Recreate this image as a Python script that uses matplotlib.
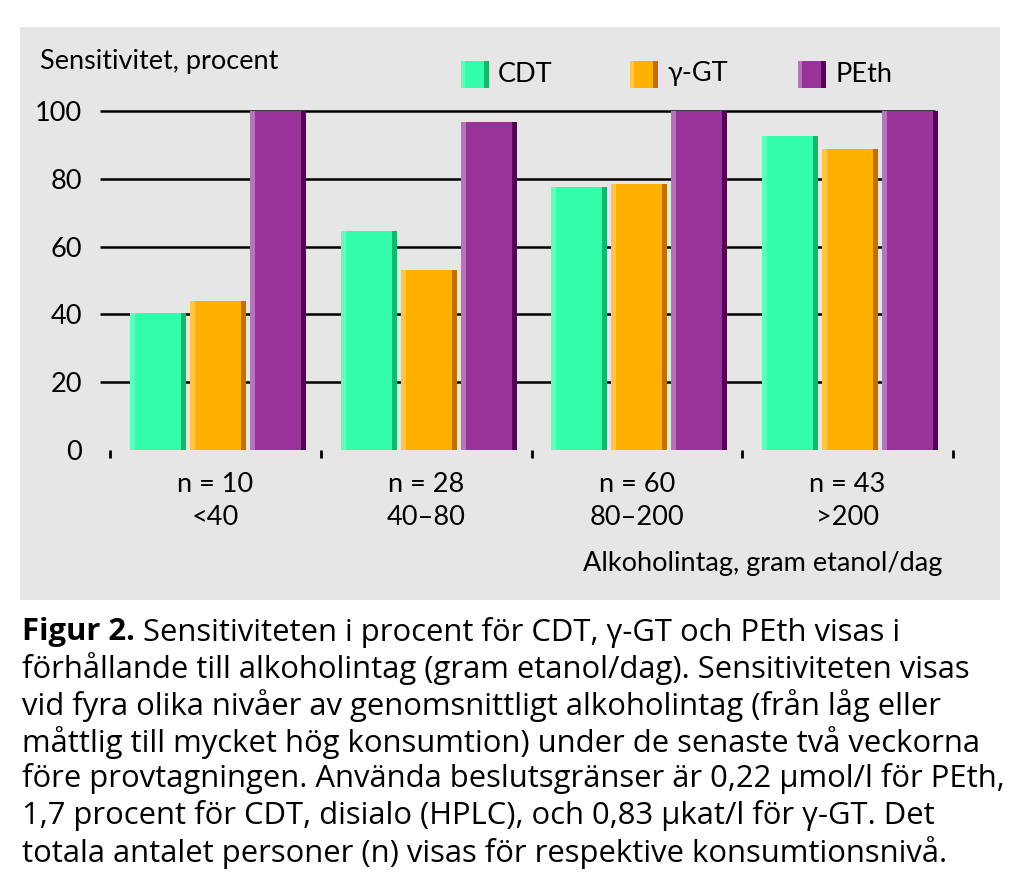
import matplotlib
matplotlib.use("Agg")
import matplotlib.pyplot as plt
from matplotlib.patches import Rectangle
from matplotlib.transforms import blended_transform_factory
import numpy as np

# data
groups_n = ["n = 10", "n = 28", "n = 60", "n = 43"]
groups_range = ["<40", "40\u201380", "80\u2013200", ">200"]
series = ["CDT", "\u03b3-GT", "PEth"]
cdt = [40.5, 64.5, 77.5, 92.5]
ggt = [44, 53, 78.5, 88.8]
peth = [100, 96.8, 100, 100]
yticks = [0, 20, 40, 60, 80, 100]

# main / light strip / dark strip
colors = {
    "CDT": ("#33FFAA", "#5CFFBC", "#14B86A"),
    "\u03b3-GT": ("#FFB000", "#FFC54A", "#C07200"),
    "PEth": ("#993399", "#B874B8", "#550055"),
}

W, H = 1022, 890
FONT = "Lato"
CAPFONT = "Open Sans"
FS = 19.5

fig = plt.figure(figsize=(W / 100, H / 100), dpi=100)
fig.patch.set_facecolor("white")


def fx(px):
    return px / W


def fy(py):
    return 1 - py / H


# grey panel
fig.add_artist(Rectangle((fx(20), fy(600)), fx(980), 573 / H,
                         transform=fig.transFigure, facecolor="#E6E6E6",
                         edgecolor="none", zorder=0))

ax = fig.add_axes([fx(110), fy(450), 843 / W, (450 - 111) / H])
ax.set_facecolor("none")
for s in ax.spines.values():
    s.set_visible(False)

x = np.arange(len(groups_n))
ax.set_xlim(-0.5, len(groups_n) - 0.5)
ax.set_ylim(0, 100)

# grid lines behind bars
tr = blended_transform_factory(ax.transAxes, ax.transData)
ax.hlines(yticks[1:], -10 / 843, (935 - 110) / 843, transform=tr,
          color="black", lw=1.8, zorder=1, clip_on=False)

unit = 210.75
bw = 56 / unit
step = 60 / unit
strip = 5 / unit
shift = 2.5 / unit
for i, (name, vals) in enumerate(zip(series, [cdt, ggt, peth])):
    main, light, dark = colors[name]
    xs = x + (i - 1) * step + shift
    ax.bar(xs, vals, width=bw, color=main, zorder=2, clip_on=False)
    ax.bar(xs - bw / 2 + strip / 2, vals, width=strip, color=light,
           zorder=3, clip_on=False)
    ax.bar(xs + bw / 2 - strip / 2, vals, width=strip, color=dark,
           zorder=3, clip_on=False)

ax.set_yticks(yticks)
ax.set_yticklabels([str(v) for v in yticks], fontsize=FS, family=FONT)
ax.tick_params(axis="y", length=0, pad=20)

ax.set_xticks(np.arange(-0.5, len(groups_n), 1.0))
ax.set_xticklabels([])
ax.tick_params(axis="x", which="major", length=6, width=2, direction="out")
ax.set_xticks(x, minor=True)
ax.set_xticklabels([f"{a}\n{b}" for a, b in zip(groups_n, groups_range)],
                   minor=True, fontsize=FS, family=FONT, linespacing=1.4)
ax.tick_params(axis="x", which="minor", length=0, pad=16)

fig.text(fx(40), fy(62), "Sensitivitet, procent", fontsize=FS, family=FONT,
         va="center", ha="left")
fig.text(fx(942), fy(563), "Alkoholintag, gram etanol/dag", fontsize=FS,
         family=FONT, va="center", ha="right")

# legend
for name, lx in zip(series, [461, 630, 798]):
    main, light, dark = colors[name]
    fig.add_artist(Rectangle((fx(lx), fy(88)), fx(28), 27 / H,
                             transform=fig.transFigure, facecolor=main,
                             edgecolor="none"))
    fig.add_artist(Rectangle((fx(lx), fy(88)), fx(4), 27 / H,
                             transform=fig.transFigure, facecolor=light,
                             edgecolor="none"))
    fig.add_artist(Rectangle((fx(lx + 23), fy(88)), fx(5), 27 / H,
                             transform=fig.transFigure, facecolor=dark,
                             edgecolor="none"))
    fig.text(fx(lx + 37), fy(74), name, fontsize=FS, family=FONT,
             va="center", ha="left")

# caption
caption = [
    "Sensitiviteten i procent för CDT, \u03b3-GT och PEth visas i",
    "förhållande till alkoholintag (gram etanol/dag). Sensitiviteten visas",
    "vid fyra olika nivåer av genomsnittligt alkoholintag (från låg eller",
    "måttlig till mycket hög konsumtion) under de senaste två veckorna",
    "före provtagningen. Använda beslutsgränser är 0,22 \u00b5mol/l för PEth,",
    "1,7 procent för CDT, disialo (HPLC), och 0,83 \u00b5kat/l för \u03b3-GT. Det",
    "totala antalet personer (n) visas för respektive konsumtionsnivå.",
]
cap_fs = 22.3
bold = fig.text(fx(22), fy(632), "Figur 2.", fontsize=cap_fs, family=CAPFONT,
                weight="bold", va="center", ha="left")
fig.canvas.draw()
bb = bold.get_window_extent(renderer=fig.canvas.get_renderer())
for k, line in enumerate(caption):
    yy = 632 + k * 36.7
    xx = 22 if k else bb.x1 + 8
    fig.text(fx(xx), fy(yy), line, fontsize=cap_fs, family=CAPFONT,
             va="center", ha="left")

fig.savefig("out.png", dpi=100)
plt.close(fig)
